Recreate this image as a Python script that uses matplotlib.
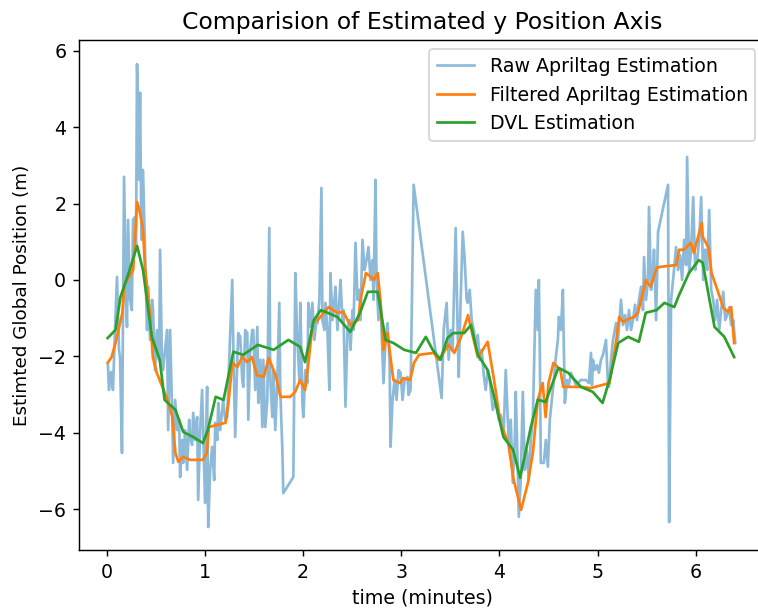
import numpy as np
import matplotlib
matplotlib.use("Agg")
import matplotlib.pyplot as plt

# Raw apriltag estimation (time in minutes, position in m)
raw_t = [0.013, 0.023, 0.044, 0.064, 0.085, 0.105, 0.126, 0.136, 0.156, 0.177,
         0.197, 0.207, 0.218, 0.238, 0.256, 0.268, 0.289, 0.299, 0.309, 0.319,
         0.330, 0.340, 0.350, 0.356, 0.370, 0.391, 0.411, 0.421, 0.442, 0.462,
         0.472, 0.493, 0.513, 0.534, 0.544, 0.564, 0.574, 0.595, 0.615, 0.626,
         0.646, 0.666, 0.677, 0.697, 0.717, 0.738, 0.748, 0.768, 0.779, 0.799,
         0.819, 0.840, 0.850, 0.870, 0.881, 0.901, 0.921, 0.932, 0.952, 0.972,
         0.993, 1.003, 1.013, 1.023, 1.034, 1.054, 1.074, 1.095, 1.105, 1.126,
         1.136, 1.156, 1.187, 1.207, 1.228, 1.248, 1.279, 1.289, 1.309, 1.330,
         1.340, 1.360, 1.381, 1.391, 1.411, 1.432, 1.442, 1.462, 1.483,
         1.493, 1.513, 1.534, 1.544, 1.564, 1.585, 1.595, 1.615, 1.636, 1.656,
         1.666, 1.687, 1.697, 1.717, 1.738, 1.758, 1.768, 1.789, 1.799, 1.901,
         1.921, 1.942, 1.962, 1.972, 1.993, 2.003, 2.023, 2.044, 2.054, 2.074,
         2.095, 2.115, 2.136, 2.146, 2.166, 2.187, 2.197, 2.217,
         2.228, 2.248, 2.268, 2.279, 2.299, 2.319, 2.330, 2.350, 2.370, 2.381,
         2.401, 2.411, 2.432, 2.452, 2.472, 2.483, 2.503, 2.513, 2.534, 2.554,
         2.574, 2.585, 2.605, 2.626, 2.646, 2.666, 2.687, 2.707, 2.717, 2.738,
         2.748, 2.768, 2.789, 2.799, 2.819, 2.840, 2.860, 2.881, 2.891, 2.911,
         2.932, 2.952, 2.973, 2.993, 3.013, 3.034, 3.064, 3.074, 3.095, 3.126,
         3.411, 3.432, 3.462, 3.483, 3.503, 3.523, 3.554, 3.574, 3.585, 3.605,
         3.626, 3.646, 3.666, 3.677, 3.697, 3.717, 3.738, 3.758, 3.779, 3.799,
         3.819, 3.840, 3.860, 3.881, 3.901, 3.932, 3.962, 3.993, 4.013, 4.044,
         4.064, 4.095, 4.115, 4.136, 4.156, 4.166, 4.187, 4.197, 4.217, 4.238,
         4.258, 4.279, 4.299, 4.319, 4.340, 4.370, 4.391, 4.401, 4.411, 4.421,
         4.452, 4.472, 4.493, 4.513, 4.534, 4.554, 4.574, 4.595, 4.605, 4.626,
         4.646, 4.656, 4.666, 4.687, 4.707,
         4.728, 4.779, 4.830, 4.881, 4.911, 4.932, 4.942, 4.952, 4.972, 4.993,
         5.013, 5.034, 5.054, 5.085, 5.105, 5.115, 5.136, 5.156, 5.187, 5.207,
         5.238, 5.258, 5.279, 5.299, 5.319, 5.340, 5.360, 5.381, 5.401, 5.421,
         5.442, 5.462, 5.472, 5.493, 5.513, 5.523, 5.544, 5.564, 5.574, 5.595,
         5.615, 5.717, 5.728, 5.748, 5.768, 5.799, 5.819, 5.840, 5.860, 5.881,
         5.901, 5.911, 5.932, 5.952, 5.973, 5.993, 6.013, 6.034, 6.054, 6.075,
         6.095, 6.115, 6.136, 6.156, 6.177, 6.197, 6.217, 6.238, 6.258, 6.279,
         6.299, 6.319, 6.340, 6.360, 6.381, 6.401]
raw_y = [-2.23, -2.88, -2.41, -2.88, -1.31, 0.08, -1.83, -2.04, -4.53, 2.70,
         -0.52, -1.23, 1.57, -0.52, -0.79, 1.57, 1.65, 0.79, 5.65, 4.71,
         2.62, 4.90, 2.09, 1.05, 2.88, 0.79, -1.31, -0.18, -1.57, -0.52,
         -0.79, -2.36, -1.31, -2.09, 0.79, -2.28, -2.36, -1.83, -1.31, -3.93,
         -1.31, -3.40, -4.79, -3.14, -3.93, -3.66, -5.16, -4.19, -4.79, -3.93,
         -4.97, -3.66, -4.11, -4.32, -3.48, -4.19, -3.59, -5.76, -3.93, -2.88,
         -4.97, -5.84, -3.93, -2.80, -6.47, -4.97, -4.37, -5.24, -3.74, -4.19,
         -3.22, -3.93, -3.14, -3.66, -3.59, -2.09, 0.00, -1.65, -4.11, -2.09,
         -1.39, -1.49, -2.62, -2.80, -1.31, -1.39, -3.66, -1.83, -1.31,
         -1.31, -2.88, -1.23, -3.22, -2.09, -3.85, -2.09, -3.85, -3.14, 1.36,
         -2.62, -3.59, -2.36, -3.93, -2.62, -0.60, -2.88, -4.45, -5.58, -5.16,
         0.18, -1.57, -2.62, -0.60, -3.22, -3.59, -2.36, -2.70, -0.60, -1.23,
         -0.60, -1.57, -1.05, -1.13, -0.52, 2.41, -1.05, -1.31,
         -0.60, -1.31, -2.88, 0.18, -1.05, -0.52, -0.18, -1.31, -0.52, 0.00,
         -1.05, -0.79, -3.32, -1.31, -1.05, -1.83, -0.79, -1.31, 0.97, -0.52,
         -0.26, -1.05, 1.05, 0.26, 0.52, 0.86, 0.00, 0.52, -0.52, 2.62,
         0.00, -1.05, -0.52, -1.31, -2.70, -1.57, -1.13, -2.09, -4.37, -3.14,
         -2.62, -3.14, -2.36, -2.43, -3.14, -2.62, -2.54, -3.01, -2.88, 2.49,
         -3.09, -1.31, -0.60, -2.09, -1.31, -1.83, 1.36, -1.31, -2.54, -0.52,
         1.26, 0.52, -0.52, -0.60, -0.26, -1.05, -1.31, -1.70, -1.44, -2.09,
         -1.83, -2.49, -2.88, -2.36, -2.62, -3.40, -3.14, -3.66, -3.53, -3.93,
         -2.36, -4.27, -3.66, -5.31, -4.19, -2.93, -4.97, -6.20, -5.24, -2.93,
         -4.97, -4.45, -5.24, -4.19, -3.66, -0.26, -1.31, 0.00, -1.83, -4.79,
         -4.79, -4.19, -4.89, -3.66, -3.14, -2.62, -2.02, -1.57, -0.97, -1.31,
         -0.26, -1.83, -3.22, -2.62, -2.75,
         -2.43, -2.75, -2.62, -2.62, -2.70, -1.91, -2.75, -2.09, -2.36, -2.23,
         -2.43, -2.09, -1.96, -1.57, -2.75, -2.80, -2.09, -1.57, -1.13, -1.57,
         -0.52, -1.18, -0.92, -1.31, -0.79, -1.31, -1.05, -0.65, -1.05, -0.52,
         -0.18, -0.79, 0.60, -0.52, 0.00, 1.91, -0.26, 0.26, 0.79, -1.05,
         1.26, 2.49, -6.34, -0.52, 0.00, 0.86, 0.26, 0.65, 0.00, 1.05,
         0.39, 3.22, 0.18, 0.79, 2.17, 0.26, 0.52, 1.05, 2.17, 0.00,
         0.79, 0.26, 1.83, -0.26, -0.52, -1.05, -0.52, -1.31, -0.79, -0.31,
         -1.05, -0.92, -0.71, -1.18, -1.05, -1.65]

# Filtered apriltag estimation
filt_t = [0.01, 0.05, 0.09, 0.16, 0.18, 0.27, 0.31, 0.34, 0.37, 0.39,
          0.44, 0.47, 0.51, 0.62, 0.67, 0.70, 0.73, 0.78, 0.85, 0.98,
          1.02, 1.04, 1.21, 1.24, 1.28, 1.33, 1.38, 1.43, 1.48, 1.53,
          1.60, 1.65, 1.72, 1.77, 1.87, 1.92, 1.97, 2.02, 2.05, 2.10,
          2.15, 2.26, 2.35, 2.41, 2.48, 2.56, 2.59, 2.64, 2.69, 2.72,
          2.76, 2.79, 2.82, 2.86, 2.89, 2.92, 2.99, 3.02, 3.09, 3.13,
          3.18, 3.33, 3.38, 3.45, 3.48, 3.54, 3.61, 3.68, 3.73, 3.78,
          3.83, 3.88, 3.94, 4.01, 4.09, 4.14, 4.22, 4.29, 4.34, 4.39,
          4.44, 4.47, 4.50, 4.55, 4.62, 4.65, 4.83, 4.93, 5.12, 5.14,
          5.19, 5.22, 5.26, 5.29, 5.37, 5.41, 5.46, 5.49, 5.54, 5.60,
          5.63, 5.80, 5.83, 5.88, 5.95, 5.98, 6.06, 6.07, 6.13, 6.16,
          6.23, 6.28, 6.33, 6.36, 6.39]
filt_y = [-2.17, -2.02, -1.65, -0.86, -0.13, 0.26, 2.04, 1.75, 1.31, 0.34,
          -0.86, -2.02, -2.43, -3.14, -3.59, -4.53, -4.76, -4.63, -4.71, -4.71,
          -4.53, -3.85, -3.74, -3.22, -2.17, -2.28, -2.02, -2.15, -2.02, -2.49,
          -2.54, -2.04, -2.49, -3.06, -3.06, -2.93, -2.62, -2.88, -2.28, -1.10,
          -1.05, -0.71, -0.86, -0.84, -1.18, -1.05, -0.45, 0.18, 0.08, 0.00,
          0.18, -0.60, -1.83, -1.39, -2.02, -2.62, -2.70, -2.57, -2.62, -2.17,
          -1.96, -1.91, -2.09, -1.83, -1.70, -1.91, -1.49, -0.92, -1.49, -2.02,
          -1.83, -1.62, -2.54, -3.74, -4.27, -5.18, -6.02, -5.31, -4.53, -3.14,
          -2.70, -3.59, -2.70, -2.17, -2.36, -2.80, -2.80, -2.83, -2.70, -2.43,
          -1.57, -0.97, -1.10, -1.05, -0.97, -0.86, -0.34, 0.00, -0.18, 0.31,
          0.34, 0.39, 0.79, 0.79, 0.97, 0.71, 1.49, 1.13, 0.84, 0.18,
          -0.34, -0.73, -0.84, -0.71, -1.65]

# DVL estimation
dvl_t = [0.01, 0.09, 0.14, 0.22, 0.31, 0.37, 0.46, 0.54, 0.59, 0.70,
         0.78, 0.88, 0.98, 1.03, 1.11, 1.19, 1.29, 1.39, 1.54, 1.70,
         1.85, 1.97, 2.02, 2.11, 2.18, 2.25, 2.35, 2.48, 2.58, 2.66,
         2.76, 2.84, 2.92, 3.03, 3.15, 3.25, 3.32, 3.40, 3.47, 3.53,
         3.64, 3.71, 3.78, 3.88, 3.96, 4.04, 4.14, 4.21, 4.32, 4.39,
         4.47, 4.60, 4.70, 4.83, 4.95, 5.05, 5.12, 5.21, 5.31, 5.42,
         5.49, 5.60, 5.68, 5.78, 5.83, 5.93, 6.03, 6.07, 6.19, 6.29,
         6.39]
dvl_y = [-1.52, -1.31, -0.45, 0.15, 0.89, 0.26, -1.49, -2.09, -3.14, -3.40,
         -3.98, -4.11, -4.27, -3.93, -3.06, -3.14, -1.88, -1.96, -1.70, -1.83,
         -1.57, -1.75, -2.15, -1.05, -0.79, -0.86, -0.97, -1.36, -0.86, -0.31,
         -0.31, -1.57, -1.65, -1.83, -1.91, -1.49, -1.83, -2.09, -1.52, -1.39,
         -1.39, -1.18, -1.96, -2.36, -3.22, -4.11, -4.45, -5.18, -3.85, -3.14,
         -3.19, -2.30, -2.43, -2.80, -2.93, -3.22, -2.62, -1.65, -1.49, -1.62,
         -0.86, -0.79, -0.60, -0.71, -0.39, 0.18, 0.52, 0.45, -1.23, -1.49,
         -2.02]

plt.rcParams['font.size'] = 10.5

fig = plt.figure(figsize=(758 / 130, 611 / 130), dpi=130)
# right edge of the axes sits just past the image border, as in the screenshot
ax = fig.add_axes([0.1042, 0.0998, 0.905, 0.8347])

ax.plot(raw_t, raw_y, color='tab:blue', alpha=0.5, label='Raw Apriltag Estimation')
ax.plot(filt_t, filt_y, color='tab:orange', label='Filtered Apriltag Estimation')
ax.plot(dvl_t, dvl_y, color='tab:green', label='DVL Estimation')

ax.set_xlim(-0.282, 6.704)
ax.set_ylim(-7.07, 6.28)
ax.spines['right'].set_visible(False)
ax.set_title('Comparision of Estimated y Position Axis', fontsize=13)
ax.set_xlabel('time (minutes)')
ax.set_ylabel('Estimted Global Position (m)', fontsize=10.2)
ax.legend(loc='upper right', bbox_to_anchor=(1.0, 1.0))

fig.savefig('out.png', dpi=130)
